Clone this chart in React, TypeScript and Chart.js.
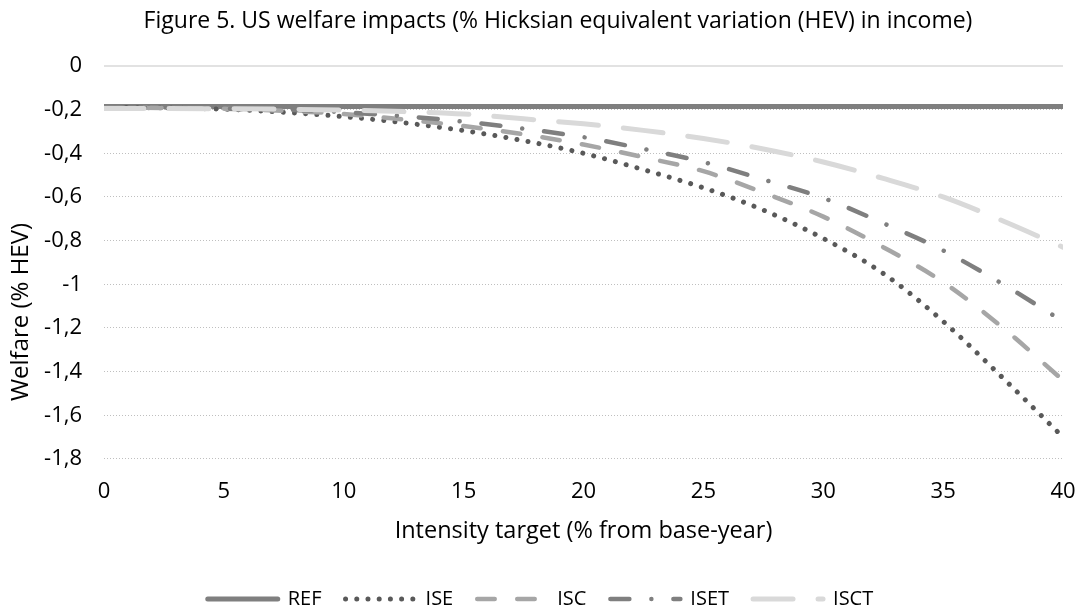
import React, { useEffect, useRef } from "react";
import { Chart, registerables } from "chart.js";

Chart.register(...registerables);

const TITLE = "Figure 5. US welfare impacts (% Hicksian equivalent variation (HEV) in income)";
const X_TITLE = "Intensity target (% from base-year)";
const Y_TITLE = "Welfare (% HEV)";

const xTargets = [0, 2.5, 5, 7.5, 10, 12.5, 15, 17.5, 20, 22.5, 25, 27.5, 30, 32.5, 35, 37.5, 40];

const seriesNames = ["REF", "ISE", "ISC", "ISET", "ISCT"];

const refValues = [-0.185, -0.185, -0.185, -0.185, -0.185, -0.185, -0.185, -0.185, -0.185, -0.185, -0.185, -0.185, -0.185, -0.185, -0.185, -0.185, -0.185];
const iseValues = [-0.19, -0.192, -0.198, -0.212, -0.232, -0.26, -0.296, -0.342, -0.4, -0.475, -0.558, -0.66, -0.79, -0.95, -1.17, -1.43, -1.7];
const iscValues = [-0.19, -0.192, -0.196, -0.205, -0.22, -0.245, -0.275, -0.313, -0.36, -0.418, -0.482, -0.58, -0.69, -0.83, -0.99, -1.2, -1.44];
const isetValues = [-0.19, -0.192, -0.195, -0.2, -0.212, -0.23, -0.255, -0.287, -0.326, -0.38, -0.44, -0.52, -0.605, -0.72, -0.845, -1.0, -1.17];
const isctValues = [-0.195, -0.195, -0.196, -0.198, -0.202, -0.209, -0.22, -0.242, -0.265, -0.295, -0.332, -0.38, -0.44, -0.515, -0.6, -0.71, -0.83];

const FONT = "'Open Sans', sans-serif";
const TEXT = "#000000";

const toPoints = (vals: number[]) => vals.map((v, i) => ({ x: xTargets[i], y: v }));

const zeroLine = {
  id: "zeroLine",
  beforeDatasetsDraw(chart: any) {
    const { ctx, chartArea, scales } = chart;
    const y = scales.y.getPixelForValue(0);
    ctx.save();
    ctx.strokeStyle = "#d9d9d9";
    ctx.lineWidth = 1.5;
    ctx.beginPath();
    ctx.moveTo(chartArea.left, y);
    ctx.lineTo(chartArea.right, y);
    ctx.stroke();
    ctx.restore();
  },
};

const texts = {
  id: "texts",
  afterDraw(chart: any) {
    const { ctx } = chart;
    ctx.save();
    ctx.fillStyle = TEXT;
    ctx.textAlign = "center";
    ctx.textBaseline = "middle";
    ctx.font = `23px ${FONT}`;
    ctx.fillText(TITLE, 558, 21);
    ctx.translate(21, 312);
    ctx.rotate(-Math.PI / 2);
    ctx.font = `24px ${FONT}`;
    ctx.fillText(Y_TITLE, 0, 0);
    ctx.restore();
  },
};

export default function App() {
  const ref = useRef<HTMLCanvasElement | null>(null);

  useEffect(() => {
    if (!ref.current) return;
    const common = {
      pointRadius: 0,
      pointHoverRadius: 0,
      fill: false,
      cubicInterpolationMode: "monotone" as const,
      borderCapStyle: "round" as const,
      borderJoinStyle: "round" as const,
    };
    const chart = new Chart(ref.current, {
      type: "line",
      data: {
        datasets: [
          { ...common, label: seriesNames[0], data: toPoints(refValues), borderColor: "#7f7f7f", backgroundColor: "#7f7f7f", borderWidth: 5, borderDash: [], order: 5 },
          { ...common, label: seriesNames[1], data: toPoints(iseValues), borderColor: "#595959", backgroundColor: "#595959", borderWidth: 5, borderDash: [0.01, 11.2], order: 4 },
          { ...common, label: seriesNames[2], data: toPoints(iscValues), borderColor: "#a6a6a6", backgroundColor: "#a6a6a6", borderWidth: 4.5, borderDash: [17.5, 22.5], order: 3 },
          { ...common, label: seriesNames[3], data: toPoints(isetValues), borderColor: "#7f7f7f", backgroundColor: "#7f7f7f", borderWidth: 4.5, borderDash: [19, 22, 0.01, 22], order: 2 },
          { ...common, label: seriesNames[4], data: toPoints(isctValues), borderColor: "#d9d9d9", backgroundColor: "#d9d9d9", borderWidth: 5, borderDash: [40, 25], order: 1 },
        ],
      },
      options: {
        animation: false,
        responsive: false,
        maintainAspectRatio: false,
        layout: { padding: { left: 18, right: 18, top: 66, bottom: -10 } },
        plugins: {
          tooltip: { enabled: false },
          title: { display: false },
          legend: {
            position: "bottom",
            labels: {
              usePointStyle: true,
              pointStyleWidth: 70,
              boxWidth: 70,
              color: TEXT,
              font: { family: FONT, size: 20 },
              padding: 24,
              generateLabels: (c: any) =>
                c.data.datasets.map((ds: any, i: number) => ({
                  text: ds.label,
                  fillStyle: ds.borderColor,
                  strokeStyle: ds.borderColor,
                  fontColor: TEXT,
                  lineWidth: ds.borderWidth,
                  lineDash: ds.borderDash,
                  lineDashOffset: 0,
                  lineCap: "round",
                  lineJoin: "round",
                  pointStyle: "line",
                  rotation: 0,
                  hidden: false,
                  datasetIndex: i,
                })),
            },
          },
        },
        scales: {
          x: {
            type: "linear",
            min: 0,
            max: 40,
            grid: { display: true, drawOnChartArea: false, drawTicks: true, tickLength: 17, tickColor: "rgba(0,0,0,0)" },
            border: { display: false },
            ticks: { stepSize: 5, color: TEXT, font: { family: FONT, size: 22 }, padding: 3 },
            title: { display: true, text: X_TITLE, color: TEXT, font: { family: FONT, size: 23.5 }, padding: { top: 8.5, bottom: 20 } },
          },
          y: {
            min: -1.8,
            max: 0,
            afterFit: (s: any) => { s.width = 86; },
            grid: {
              drawTicks: false,
              color: (c: any) => (c.tick && Math.abs(c.tick.value) < 1e-9 ? "rgba(0,0,0,0)" : "#bfbfbf"),
              lineWidth: 1,
            },
            border: { display: false, dash: [1, 2] },
            ticks: {
              stepSize: 0.2,
              color: TEXT,
              font: { family: FONT, size: 22 },
              padding: 22,
              callback: (v: any) => String(Math.round(Number(v) * 10) / 10).replace(".", ","),
            },
            title: { display: false },
          },
        },
      },
      plugins: [zeroLine, texts],
    });
    return () => chart.destroy();
  }, []);

  return (
    <div style={{ position: "fixed", left: 0, top: 0, width: 1081, height: 609, background: "#ffffff" }}>
      <canvas ref={ref} width={1081} height={609} style={{ display: "block", width: 1081, height: 609 }} />
    </div>
  );
}
